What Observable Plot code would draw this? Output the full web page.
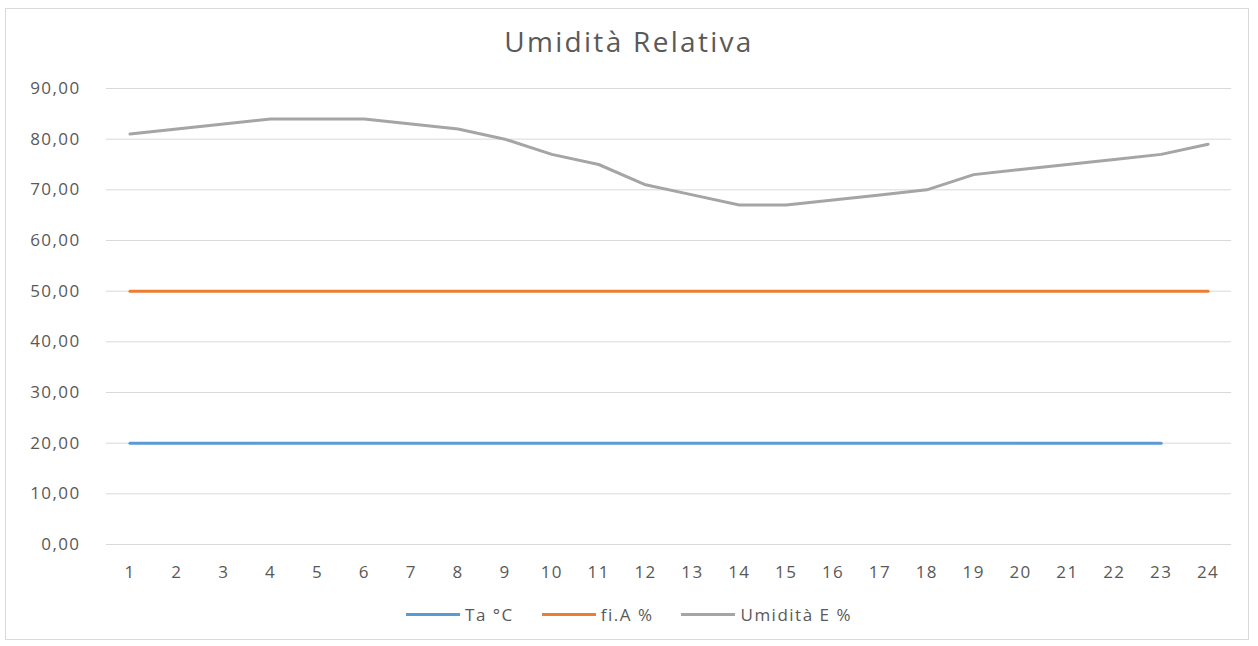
<!DOCTYPE html>
<html>
<head>
<meta charset="utf-8">
<script src="https://cdn.jsdelivr.net/npm/d3@7"></script>
<script src="https://cdn.jsdelivr.net/npm/@observablehq/plot@0.6"></script>
<style>
  html, body { margin: 0; padding: 0; background: #fff; }
  body { width: 1258px; height: 646px; position: relative; overflow: hidden; font-family: "Open Sans", sans-serif; }
  #frame { position: absolute; left: 5px; top: 8px; width: 1244px; height: 632px; border: 1px solid #d9d9d9; box-sizing: border-box; }
  #title { position: absolute; left: 0; top: 22px; width: 1258px; text-align: center; font-size: 28px; letter-spacing: 2.3px; color: #595959; }
  #chart { position: absolute; left: 0; top: 70px; }
  #legend { position: absolute; left: 0; top: 603px; width: 1258px; display: flex; justify-content: center; gap: 28px; font-size: 17px; letter-spacing: 1.5px; color: #595959; }
  .item { display: flex; align-items: center; gap: 5px; }
  .sw { width: 54px; height: 3px; }
  #chart text { letter-spacing: 1.4px; }
</style>
</head>
<body>
<div id="frame"></div>
<div id="title">Umidità Relativa</div>
<div id="chart"></div>
<div id="legend"></div>
<script>
const hours = d3.range(1, 25);
const yTicks = [0, 10, 20, 30, 40, 50, 60, 70, 80, 90];
const seriesNames = ["Ta °C", "fi.A %", "Umidità E %"];
const seriesColors = ["#5B9BD5", "#ED7D31", "#A5A5A5"];
const taValues = [20,20,20,20,20,20,20,20,20,20,20,20,20,20,20,20,20,20,20,20,20,20,20];
const fiAValues = [50,50,50,50,50,50,50,50,50,50,50,50,50,50,50,50,50,50,50,50,50,50,50,50];
const umiditaValues = [81,82,83,84,84,84,83,82,80,77,75,71,69,67,67,68,69,70,73,74,75,76,77,79];

const allValues = [taValues, fiAValues, umiditaValues];
const data = [];
allValues.forEach((vals, s) => vals.forEach((v, i) => data.push({hour: hours[i], value: v, series: seriesNames[s]})));

const fmt = v => v.toFixed(2).replace(".", ",");

const chart = Plot.plot({
  width: 1258,
  height: 514,
  marginTop: 18,
  marginBottom: 40,
  marginLeft: 106,
  marginRight: 27,
  style: { fontFamily: "Open Sans, sans-serif", fontSize: "17px", color: "#595959", background: "transparent" },
  x: { type: "point", domain: hours, padding: 0.5, round: false, label: null },
  y: { domain: [0, 90], label: null },
  color: { domain: seriesNames, range: seriesColors },
  marks: [
    Plot.ruleY(yTicks, { stroke: "#d9d9d9", strokeWidth: 1, strokeOpacity: 1 }),
    Plot.axisY(yTicks, { tickSize: 0, tickPadding: 26, tickFormat: fmt, fontSize: 17, fill: "#595959", label: null }),
    Plot.axisX(hours, { tickSize: 0, tickPadding: 21, fontSize: 17, fill: "#595959", label: null }),
    Plot.line(data, { x: "hour", y: "value", z: "series", stroke: "series", strokeWidth: 3, curve: "linear" })
  ]
});
document.getElementById("chart").appendChild(chart);

const legend = document.getElementById("legend");
seriesNames.forEach((n, i) => {
  const it = document.createElement("div");
  it.className = "item";
  it.innerHTML = `<span class="sw" style="background:${seriesColors[i]}"></span><span>${n}</span>`;
  legend.appendChild(it);
});
</script>
</body>
</html>
